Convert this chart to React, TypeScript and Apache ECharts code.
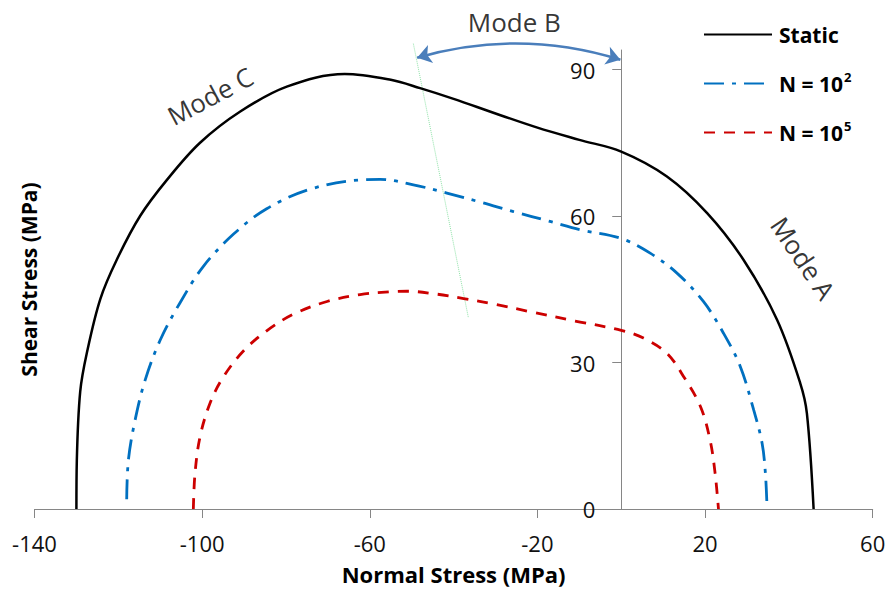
import React, { useEffect, useRef } from "react";
import * as echarts from "echarts";

const FONT = "'Open Sans', 'DejaVu Sans', sans-serif";

const xTicks = [-140, -100, -60, -20, 20, 60];
const yTicks = [0, 30, 60, 90];

const staticCurve: number[][] = [
  [-130, 0], [-129.9, 10], [-129.1, 24], [-127.5, 32], [-124.3, 43], [-120.4, 51],
  [-114.8, 60], [-108.4, 67.4], [-100.5, 75], [-90.9, 81.4], [-79.8, 86.5], [-66, 89.1],
  [-55, 87.9], [-48, 86.2], [-40, 84], [-30, 81], [-20, 78.1], [-10, 75.6], [0, 73.2],
  [10.9, 68.1], [20.5, 60.6], [29.2, 51], [37.2, 38.7], [42.7, 25.8], [44.3, 19.6], [45.9, 0],
];

const n2Curve: number[][] = [
  [-118, 2], [-117.6, 10], [-116, 18.2], [-113.6, 26.4], [-110, 34.6], [-105.3, 42.2],
  [-99.7, 49.7], [-92.5, 56.3], [-84.6, 61.5], [-74.2, 65.5], [-62.3, 67.4], [-57.5, 67.5],
  [-49.6, 66.4], [-41.6, 64.7], [-33, 62.7], [-25.7, 60.9], [-17, 58.9], [-9.8, 57.2], [0, 55.4],
  [6.9, 52.4], [13.3, 48.3], [19.6, 42.5], [24.4, 36], [28.4, 29.2], [31.6, 20.3], [33.6, 13.5],
  [34.4, 7.3], [34.8, 0],
];

const n5Curve: number[][] = [
  [-102.1, 0], [-101.7, 7.3], [-100.5, 14.8], [-98.1, 21.7], [-94.9, 27.1], [-90.1, 32.4],
  [-84.6, 36.5], [-78.2, 39.9], [-70.2, 42.5], [-62.3, 43.9], [-55.1, 44.5], [-51.1, 44.6],
  [-44, 44], [-37.6, 43.1], [-30, 41.9], [-21.7, 40.4], [-11, 38.5], [0, 36.6], [5.3, 35],
  [10.9, 31.9], [14.9, 27.1], [18.9, 21], [21.2, 14.1], [22.4, 7.3], [23.2, 0],
];

const dividerLine: number[][] = [[-49.6, 95.3], [-36.5, 39.3]];
const modeBArrow: number[][] = [[-48.7, 92.4], [-0.2, 92.0]];

const annotations = [
  { name: "Mode B", value: [-25.5, 99.8], rotate: 0 },
  { name: "Mode C", value: [-98.1, 84.6], rotate: 28 },
  { name: "Mode A", value: [43.4, 51.4], rotate: -56 },
];

const seriesNames = ["Static", "N = 10^2", "N = 10^5"];

const GRID_LEFT = 34.5;
const GRID_RIGHT = 17.3;
const X_MIN = -140;
const X_MAX = 60;

export default function App() {
  const ref = useRef<HTMLDivElement>(null);
  useEffect(() => {
    if (!ref.current) return;
    const chart = echarts.init(ref.current, undefined, { renderer: "svg" });
    const axisGrey = "#868686";
    const plotW = 890 - GRID_LEFT - GRID_RIGHT;
    const yAxisShift = ((0 - X_MIN) / (X_MAX - X_MIN)) * plotW;
    chart.setOption({
      animation: false,
      backgroundColor: "#ffffff",
      grid: { left: GRID_LEFT, right: GRID_RIGHT, top: 50, bottom: 92, containLabel: false, outerBoundsMode: "none" },
      legend: {
        data: seriesNames,
        orient: "vertical",
        left: 698,
        top: 19,
        itemWidth: 68,
        itemHeight: 14,
        itemGap: 25.5,
        itemStyle: { color: "rgba(0,0,0,0)", borderWidth: 0, opacity: 0 },
        formatter: (name: string) => {
          const m = name.match(/^(.*)\^(\d)$/);
          if (m) return `{b|${m[1]}}{s|${m[2]}}`;
          return `{b|${name}}`;
        },
        textStyle: {
          fontFamily: FONT,
          fontWeight: "bold",
          fontSize: 21,
          color: "#000",
          padding: [0, 0, 0, 2],
          rich: {
            b: { fontFamily: FONT, fontWeight: "bold", fontSize: 21, color: "#000", lineHeight: 26 },
            s: { fontFamily: FONT, fontWeight: "bold", fontSize: 13, color: "#000", lineHeight: 26, verticalAlign: "top", padding: [0, 0, 10, 1] },
          },
        },
      },
      xAxis: {
        type: "value",
        min: X_MIN,
        max: X_MAX,
        interval: 20,
        name: "Normal Stress (MPa)",
        nameLocation: "middle",
        nameGap: 54,
        nameTextStyle: { fontFamily: FONT, fontWeight: "bold", fontSize: 22, color: "#000" },
        axisLine: { show: true, onZero: false, lineStyle: { color: axisGrey, width: 1 } },
        axisTick: { show: true, length: 9, lineStyle: { color: axisGrey }, customValues: xTicks },
        axisLabel: { fontFamily: FONT, fontSize: 22, color: "#111", margin: 23, customValues: xTicks },
        splitLine: { show: false },
      },
      yAxis: {
        type: "value",
        min: 0,
        max: 94,
        interval: 30,
        offset: -yAxisShift,
        name: "Shear Stress (MPa)",
        nameLocation: "middle",
        nameGap: yAxisShift - 5,
        nameTextStyle: { fontFamily: FONT, fontWeight: "bold", fontSize: 21, color: "#000" },
        axisLine: { show: true, onZero: false, lineStyle: { color: axisGrey, width: 1 } },
        axisTick: { show: true, length: 9, lineStyle: { color: axisGrey }, customValues: yTicks },
        axisLabel: { fontFamily: FONT, fontSize: 22, color: "#111", margin: 26, customValues: yTicks },
        splitLine: { show: false },
      },
      series: [
        {
          name: "Static",
          type: "line",
          data: staticCurve,
          smooth: 0.35,
          showSymbol: false,
          symbol: "none",
          clip: false,
          lineStyle: { color: "#000000", width: 2.5 },
          itemStyle: { color: "#000000" },
          z: 5,
        },
        {
          name: "N = 10^2",
          type: "line",
          data: n2Curve,
          smooth: 0.35,
          showSymbol: false,
          symbol: "none",
          clip: false,
          lineStyle: { color: "#0070C0", width: 2.8, type: [20, 8, 4, 8] },
          itemStyle: { color: "#0070C0" },
          z: 5,
        },
        {
          name: "N = 10^5",
          type: "line",
          data: n5Curve,
          smooth: 0.35,
          showSymbol: false,
          symbol: "none",
          clip: false,
          lineStyle: { color: "#CC0000", width: 2.8, type: [11, 9] },
          itemStyle: { color: "#CC0000" },
          z: 5,
        },
        {
          name: "divider",
          type: "line",
          data: dividerLine,
          showSymbol: false,
          symbol: "none",
          clip: false,
          silent: true,
          lineStyle: { color: "#8FE3A8", width: 1, type: "dotted" },
          z: 3,
        },
        {
          name: "modeB",
          type: "lines",
          coordinateSystem: "cartesian2d",
          polyline: false,
          clip: false,
          silent: true,
          symbol: ["arrow", "arrow"],
          symbolSize: 14,
          lineStyle: { color: "#4A7EBB", width: 2.5, opacity: 1, curveness: 0.15 },
          data: [{ coords: modeBArrow }],
          z: 4,
        },
        {
          name: "labels",
          type: "scatter",
          symbolSize: 0,
          clip: false,
          silent: true,
          itemStyle: { color: "#000" },
          data: annotations.map((a) => ({
            name: a.name,
            value: a.value,
            label: {
              show: true,
              position: "inside",
              formatter: a.name,
              rotate: a.rotate,
              align: "center",
              verticalAlign: "middle",
              fontFamily: FONT,
              fontSize: 26,
              color: "#000",
              textBorderWidth: 0,
              textBorderColor: "transparent",
            },
          })),
        },
      ],
    });
    return () => chart.dispose();
  }, []);
  return (
    <div
      ref={ref}
      style={{ position: "fixed", left: 0, top: 0, width: 890, height: 601, background: "#fff" }}
    />
  );
}
